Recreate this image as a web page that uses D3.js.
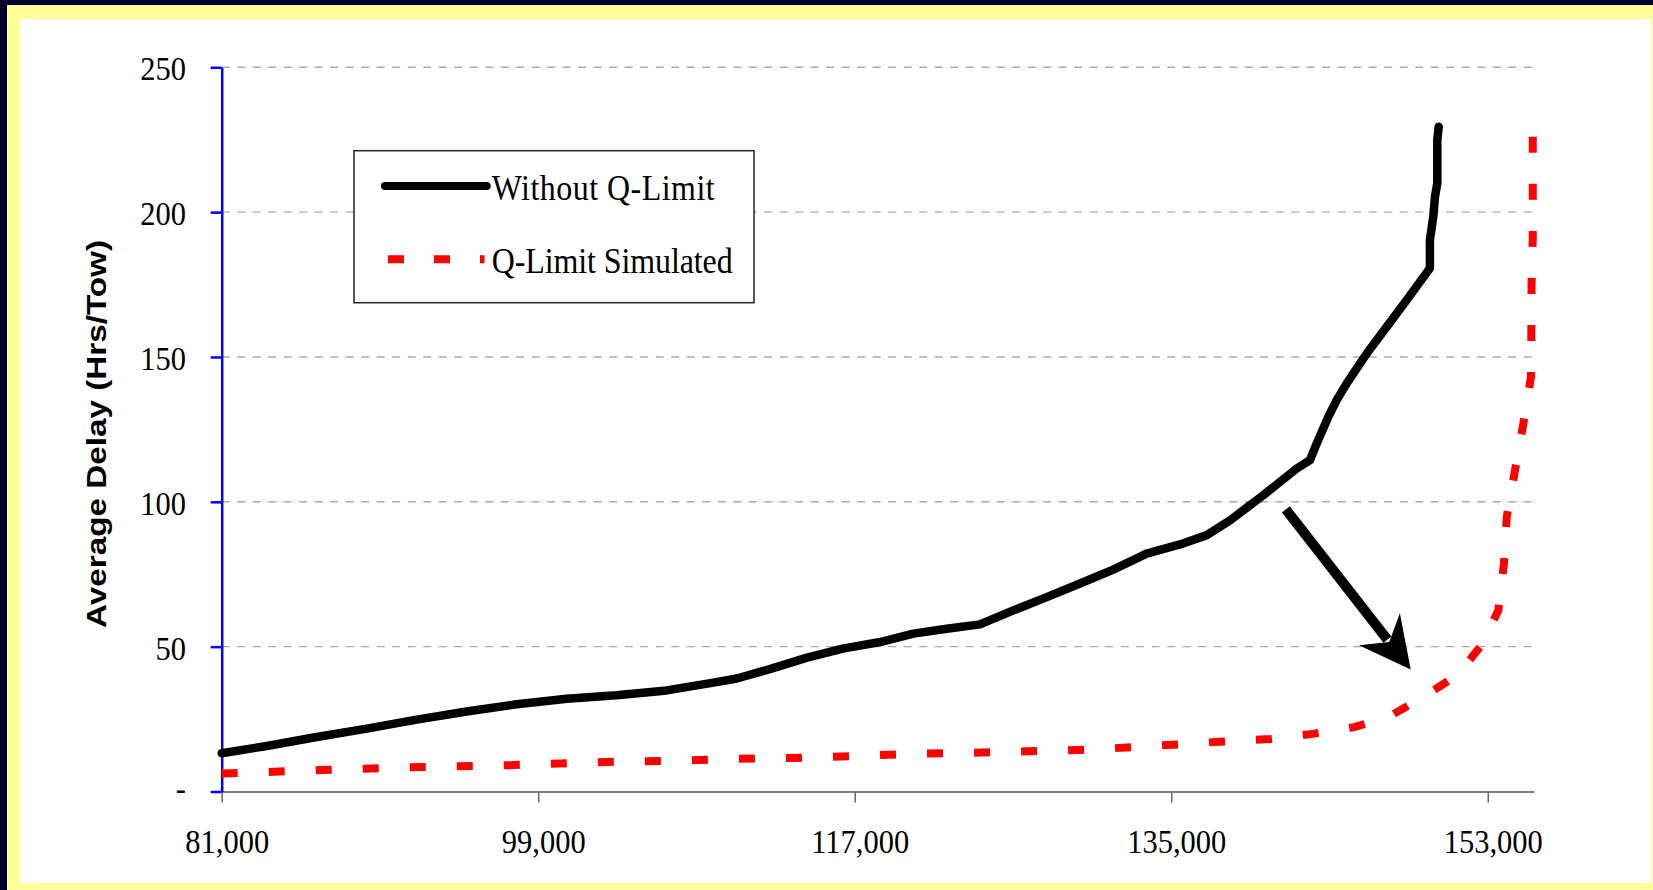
<!DOCTYPE html>
<html>
<head>
<meta charset="utf-8">
<script src="https://d3js.org/d3.v7.min.js"></script>
<style>
  html, body { margin: 0; padding: 0; background: #00002e; overflow: hidden; }
  svg { display: block; }
  .serif { font-family: "Liberation Serif", "Times New Roman", serif; fill: #000; }
</style>
</head>
<body>
<svg id="chart" width="1653" height="890"></svg>
<script>
// axis ticks
const xTicks = [81000, 99000, 117000, 135000, 153000];
const yTicks = [0, 50, 100, 150, 200, 250];
const seriesNames = ["Without Q-Limit", "Q-Limit Simulated"];
const yTitle = "Average Delay (Hrs/Tow)";

// series (tows, hrs/tow)
const noLimitX = [81000, 83560, 86400, 89250, 92090, 94930, 97780, 100620, 103460, 106310,
  108960, 110290, 112260, 114290, 116320, 118440, 120330, 122230, 124120, 126020,
  127920, 129810, 131700, 133600, 135500, 137020, 138340, 140240, 142140, 142890,
  143270, 143930, 144410, 144980, 146120, 147250, 148390, 149710, 149710, 149900,
  150000, 150130, 150130, 150210];
const noLimitY = [13.2, 15.7, 18.8, 21.7, 24.8, 27.6, 30.1, 32.0, 33.2, 34.9,
  37.6, 39.0, 42.4, 46.2, 49.3, 51.6, 54.5, 56.2, 57.7, 62.5,
  67.1, 71.8, 76.6, 82.1, 85.3, 88.5, 93.6, 102.3, 111.5, 114.4,
  120.1, 129.3, 135.1, 140.9, 151.2, 160.4, 169.7, 180.6, 190.4, 198.4,
  205.4, 210, 225, 229.5];

const simX = [81000, 86590, 91770, 96940, 102120, 107230, 110400, 115000, 120210, 125320,
  130480, 135500, 138010, 140630, 143050, 145410, 147440, 149490, 151330, 152620,
  153600, 153920, 154080, 154550, 155020, 155460, 155480, 155490, 155560, 155560, 155560];
const simY = [6.2, 7.4, 8.4, 9.0, 10.1, 10.7, 11.3, 11.8, 13.0, 13.6,
  14.5, 16.3, 17.3, 18.1, 19.9, 22.2, 26.0, 33.2, 40.5, 50.3,
  62.5, 78.7, 94.8, 110.9, 126.8, 143.2, 159.3, 174.8, 191, 207, 226];

// annotation arrow, data coords
const arrowFrom = [141520, 97.4];
const arrowTo = [148620, 42.1];

const SY = 1.12; // the original picture is stretched vertically

const svg = d3.select("#chart");

// frame
svg.append("rect").attr("x", 7).attr("y", 5).attr("width", 1700).attr("height", 900).attr("fill", "#ffff99");
svg.append("rect").attr("x", 20).attr("y", 19).attr("width", 1631).attr("height", 864).attr("fill", "#fff");

const x = d3.scaleLinear().domain([81000, 155630]).range([221.7, 1534]);
const y = d3.scaleLinear().domain([0, 250]).range([791.5, 67.3]);

// gridlines
svg.append("g")
  .selectAll("line")
  .data(yTicks.filter(d => d > 0)).enter()
  .append("line")
  .attr("x1", x.range()[0]).attr("x2", x.range()[1])
  .attr("y1", d => y(d)).attr("y2", d => y(d))
  .attr("stroke", "#aaaaaa").attr("stroke-width", 1.4)
  .attr("stroke-dasharray", "8,7.5");

// x axis
const gx = svg.append("g")
  .attr("transform", `translate(0,${y(0)})`)
  .call(d3.axisBottom(x).tickValues(xTicks).tickSize(11).tickSizeOuter(0).tickFormat(d3.format(",")));
gx.select(".domain").attr("stroke", "#7f7f7f").attr("stroke-width", 2);
gx.selectAll(".tick line").attr("stroke", "#666").attr("stroke-width", 1.5);
gx.selectAll(".tick text")
  .attr("class", "serif")
  .attr("font-size", 30.5)
  .attr("x", 5).attr("dy", null).attr("y", 61.5 / SY)
  .attr("transform", `scale(1,${SY})`);

// y axis
const gy = svg.append("g")
  .attr("transform", `translate(${x.range()[0]},0)`)
  .call(d3.axisLeft(y).tickValues(yTicks).tickSize(11).tickSizeOuter(0)
    .tickFormat(d => d === 0 ? "-" : d));
gy.select(".domain").attr("stroke", "#0000ff").attr("stroke-width", 2.5);
gy.selectAll(".tick line").attr("stroke", "#0000ff").attr("stroke-width", 2.5);
gy.selectAll(".tick text")
  .attr("class", "serif")
  .attr("font-size", 30.5)
  .attr("x", -35.7).attr("dy", null)
  .attr("y", d => (d === 0 ? 8 : 12.5) / SY)
  .attr("transform", `scale(1,${SY})`);

// y title
svg.append("text")
  .attr("transform", "translate(105.5,434) rotate(-90)")
  .attr("text-anchor", "middle")
  .attr("font-family", "Liberation Sans, Arial, sans-serif")
  .attr("font-weight", "bold")
  .attr("font-size", 28)
  .attr("textLength", 388)
  .attr("lengthAdjust", "spacingAndGlyphs")
  .text(yTitle);

// series
const line = d3.line().x(d => x(d[0])).y(d => y(d[1]));

svg.append("path")
  .datum(noLimitX.map((v, i) => [v, noLimitY[i]]))
  .attr("d", line)
  .attr("fill", "none").attr("stroke", "#000").attr("stroke-width", 8.5)
  .attr("stroke-linejoin", "round").attr("stroke-linecap", "round");

const simPath = svg.append("path")
  .datum(simX.map((v, i) => [v, simY[i]]))
  .attr("d", line)
  .attr("fill", "none").attr("stroke", "#ff0000").attr("stroke-width", 8);
// stretch the dash period a touch so the line both starts and ends on a dash
const simLen = simPath.node().getTotalLength(),
  period = (simLen - 16) / Math.round((simLen - 16) / 46.5);
simPath.attr("stroke-dasharray", `16,${period - 16}`);

// arrow
const p0 = [x(arrowFrom[0]), y(arrowFrom[1])],
  p1 = [x(arrowTo[0]), y(arrowTo[1])],
  len = Math.hypot(p1[0] - p0[0], p1[1] - p0[1]),
  u = [(p1[0] - p0[0]) / len, (p1[1] - p0[1]) / len],
  n = [-u[1], u[0]];
const at = (back, side) => [p1[0] - u[0] * back + n[0] * side, p1[1] - u[1] * back + n[1] * side];

svg.append("line")
  .attr("x1", p0[0]).attr("y1", p0[1])
  .attr("x2", at(38, 0)[0]).attr("y2", at(38, 0)[1])
  .attr("stroke", "#000").attr("stroke-width", 10);
svg.append("path")
  .attr("d", d3.line()([p1, at(51, 26), at(35, 0), at(51, -26)]) + "Z")
  .attr("fill", "#000");

// legend
const lg = svg.append("g");
lg.append("rect")
  .attr("x", 354).attr("y", 150.7).attr("width", 400).attr("height", 152)
  .attr("fill", "#fff").attr("stroke", "#222").attr("stroke-width", 1.5);
lg.append("line")
  .attr("x1", 385).attr("x2", 486.7).attr("y1", 186).attr("y2", 186)
  .attr("stroke", "#000").attr("stroke-width", 8).attr("stroke-linecap", "round");
lg.append("line")
  .attr("x1", 388).attr("x2", 484.5).attr("y1", 259.3).attr("y2", 259.3)
  .attr("stroke", "#ff0000").attr("stroke-width", 8).attr("stroke-dasharray", "16,30");
lg.selectAll("text.item")
  .data(seriesNames).enter()
  .append("text")
  .attr("class", "serif")
  .attr("font-size", 32)
  .attr("textLength", (d, i) => i === 0 ? 223 : 241)
  .attr("lengthAdjust", "spacing")
  .attr("transform", (d, i) => `translate(491.7,${i === 0 ? 200 : 272.7}) scale(1,${SY})`)
  .text(d => d);
</script>
</body>
</html>
